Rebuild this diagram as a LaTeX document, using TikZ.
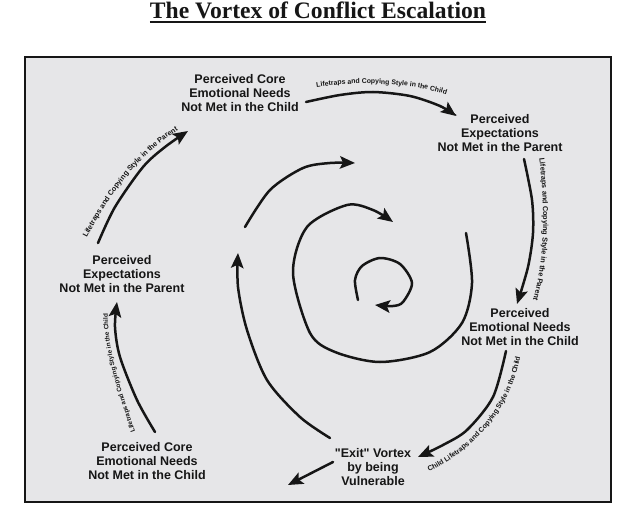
\documentclass[tikz,border=0pt]{standalone}
\usepackage{fontspec}
\setmainfont{Liberation Sans}[Ligatures=TeXOff]
\newfontfamily\titleserif{Liberation Serif}
\usetikzlibrary{arrows.meta,decorations.text}
\definecolor{panel}{RGB}{230,230,232}
\definecolor{ink}{RGB}{22,22,22}
\tikzset{
  arr/.style={line width=2.5pt, draw=ink, line cap=round, -{Stealth[length=15pt,width=12.5pt,inset=3pt]}},
  lbl/.style={font=\fontsize{12.5}{13.8}\selectfont\bfseries, align=center, inner sep=0pt, text=ink},
  titlestyle/.style={font=\titleserif\fontsize{23.6}{26}\selectfont\bfseries, inner sep=0pt, text=ink},
  frame/.style={line width=1.2pt, draw=ink, fill=panel}
}
\newcommand\fA{\fontsize{6.9}{7}\selectfont\bfseries}
\newcommand\fB{\fontsize{7.3}{8}\selectfont\bfseries}
\newcommand\fC{\fontsize{7.0}{8}\selectfont\bfseries}
\newcommand\fE{\fontsize{6.4}{7}\selectfont\bfseries}
\begin{document}
\begin{tikzpicture}[x=1pt,y=-1pt]
\useasboundingbox (0,0) rectangle (635,527);
\draw[frame] (25,57) rectangle (611,502);
% title
\node[titlestyle, anchor=base] (title) at (318,18.5) {The Vortex of Conflict Escalation};
\draw[line width=1.5pt, draw=ink] ([yshift=-3.5pt]title.base west) -- ([yshift=-3.5pt]title.base east);
% labels
\node[lbl] (tcore) at (240,93) {Perceived Core\\Emotional Needs\\Not Met in the Child};
\node[lbl] (texp) at (500,133) {Perceived\\Expectations\\Not Met in the Parent};
\node[lbl] (remo) at (520,327) {Perceived\\Emotional Needs\\Not Met in the Child};
\node[lbl] (exitv) at (373,467) {"Exit" Vortex\\by being\\Vulnerable};
\node[lbl] (bcore) at (147,461) {Perceived Core\\Emotional Needs\\Not Met in the Child};
\node[lbl] (lexp) at (122,274) {Perceived\\Expectations\\Not Met in the Parent};
% connector end points
\coordinate (a1) at (306,102); \coordinate (a2) at (456,116);
\coordinate (b1) at (524,159); \coordinate (b2) at (517,304);
\coordinate (c1) at (506,351); \coordinate (c2) at (418,457);
\coordinate (d1) at (333,462); \coordinate (d2) at (288,485);
\coordinate (e1) at (155,432); \coordinate (e2) at (117,302);
\coordinate (f1) at (98,243);  \coordinate (f2) at (188,131);
\coordinate (g1) at (330,438); \coordinate (g2) at (238,253);
\coordinate (h1) at (245,227); \coordinate (h2) at (355,163);
\coordinate (i1) at (466,233); \coordinate (i2) at (393,222);
\coordinate (j1) at (358,300); \coordinate (j2) at (375,305);
% outer connectors
\draw[arr] plot[smooth] coordinates {(a1) (340,95) (373,92) (410,96) (440,106) (a2)};
\draw[arr] plot[smooth] coordinates {(b1) (532,200) (533,233) (528,267) (b2)};
\draw[arr] plot[smooth] coordinates {(c1) (493,397) (467,430) (443,445) (c2)};
\draw[arr] (d1) -- (d2);
\draw[arr] plot[smooth] coordinates {(e1) (137,400) (120,357) (115,327) (e2)};
\draw[arr] plot[smooth] coordinates {(f1) (115,207) (143,167) (165,147) (f2)};
% inner vortex
\draw[arr] plot[smooth] coordinates {(g1) (300,417) (267,380) (247,330) (238,287) (g2)};
\draw[arr] plot[smooth] coordinates {(h1) (270,190) (303,168) (330,163) (h2)};
\draw[arr] plot[smooth] coordinates {(i1) (472,283) (462,323) (430,352) (380,362) (335,352) (310,333) (293,273) (307,227) (347,205) (373,210) (i2)};
\draw[arr] plot[smooth] coordinates {(j1) (355,280) (362,266) (380,258) (400,264) (412,283) (403,302) (393,306) (j2)};
% texts along connectors
\path[decorate, decoration={text along path, text align=center, text color=ink,
  text={|\fA|Lifetraps and Copying Style in the Child}}]
  (300,91) .. controls (340,80) and (420,80) .. (462,101);
\path[decorate, decoration={text along path, text align=center, text color=ink,
  text={|\fB|Lifetraps and Copying Style in the Parent}}]
  (538,148) .. controls (545,200) and (547,260) .. (530,310);
\path[decorate, decoration={text along path, text align=center, text color=ink,
  text={|\fC|Child Lifetraps and Copying Style in the Child}}]
  (418,477) .. controls (470,455) and (515,410) .. (522,345);
\path[decorate, decoration={text along path, text align=center, text color=ink,
  text={|\fE|Lifetraps and Copying Style in the Child}}]
  (138,440) .. controls (121,390) and (106,350) .. (108,305);
\path[decorate, decoration={text along path, text align=center, text color=ink,
  text={|\fB|Lifetraps and Copying Style in the Parent}}]
  (83,246) .. controls (105,200) and (140,150) .. (186,126);
\end{tikzpicture}
\end{document}
